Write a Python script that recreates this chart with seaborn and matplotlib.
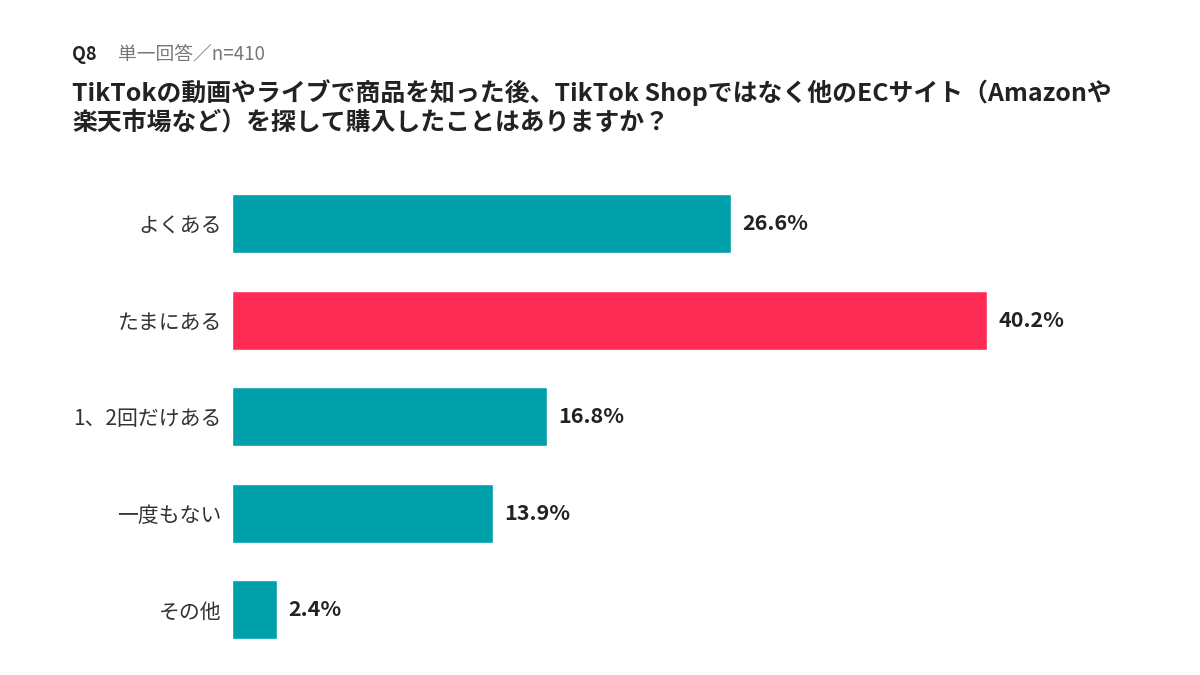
import matplotlib

matplotlib.use("Agg")
import matplotlib.pyplot as plt
import pandas as pd
import seaborn as sns

categories = ["よくある", "たまにある", "1、2回だけある", "一度もない", "その他"]
values = [26.6, 40.2, 16.8, 13.9, 2.4]
highlight = "たまにある"

question_no = "Q8"
subtitle = "単一回答／n=410"
title = (
    "TikTokの動画やライブで商品を知った後、TikTok Shopではなく他のECサイト（Amazonや\n"
    "楽天市場など）を探して購入したことはありますか？"
)

TEAL = "#00A0AA"
RED = "#FE2C55"

sns.set_theme(style="white")
plt.rcParams["font.family"] = ["Noto Sans CJK JP", "DejaVu Sans"]

df = pd.DataFrame({"category": categories, "value": values})
palette = {c: (RED if c == highlight else TEAL) for c in categories}

fig = plt.figure(figsize=(12, 6.75), dpi=100)
ax = fig.add_axes([0.193, 0.025, 0.783, 0.715])

sns.barplot(
    data=df,
    x="value",
    y="category",
    hue="category",
    palette=palette,
    order=categories,
    width=0.61,
    legend=False,
    saturation=1,
    ax=ax,
)

# value labels just past the bar ends
for i, v in enumerate(values):
    ax.text(v + 0.6, i, f"{v:.1f}%", va="center", ha="left",
            fontsize=15.5, fontweight="bold", color="#222222")

ax.set_xlim(0, 50)
ax.set_ylim(4.5, -0.5)
ax.set_xlabel("")
ax.set_ylabel("")
ax.set_xticks([])
ax.tick_params(axis="y", length=0, pad=7, labelsize=15, labelcolor="#333333")
sns.despine(ax=ax, left=True, bottom=True)

fig.text(0.06, 0.92, question_no, fontsize=13, color="#222222",
         fontweight="bold", va="center")
fig.text(0.098, 0.92, subtitle, fontsize=13.5, color="#777777", va="center")
fig.text(0.06, 0.842, title, fontsize=17.9, fontweight="bold", color="#222222",
         va="center", linespacing=1.27)

fig.savefig("out.png", dpi=100)
